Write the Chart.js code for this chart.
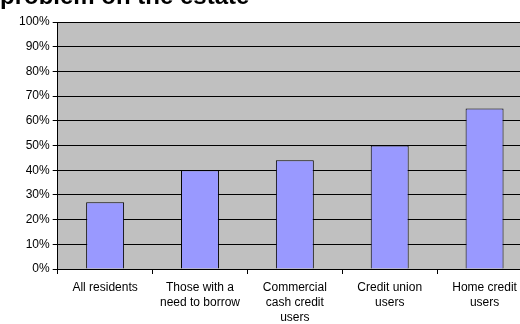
<!DOCTYPE html>
<html>
<head>
<meta charset="utf-8">
<script src="https://cdn.jsdelivr.net/npm/chart.js@4/dist/chart.umd.min.js"></script>
<style>
  html, body { margin: 0; padding: 0; background: #fff; overflow: hidden; }
  #wrap { width: 535px; height: 324px; }
</style>
</head>
<body>
<div id="wrap"><canvas id="chart"></canvas></div>
<script>
const categories = [
  ["All residents"],
  ["Those with a", "need to borrow"],
  ["Commercial", "cash credit", "users"],
  ["Credit union", "users"],
  ["Home credit", "users"]
];
const values = [27, 40, 44, 50, 65];
const titleText = "problem on the estate";

const font = "'Liberation Sans', Arial, sans-serif";

// grey plot area + cut-off title
const backdrop = {
  id: "backdrop",
  beforeDraw(chart) {
    const { ctx, chartArea: a } = chart;
    ctx.save();
    ctx.fillStyle = "#c0c0c0";
    ctx.fillRect(a.left, a.top, a.right - a.left, a.bottom - a.top);
    ctx.fillStyle = "#000";
    ctx.font = "bold 24px " + font;
    ctx.textBaseline = "alphabetic";
    ctx.fillText(titleText, 0, 4);
    ctx.restore();
  }
};

new Chart(document.getElementById("chart"), {
  type: "bar",
  data: {
    labels: categories,
    datasets: [{
      data: values,
      backgroundColor: "#9999ff",
      borderColor: "#000",
      borderWidth: 1,
      categoryPercentage: 0.4,
      barPercentage: 1
    }]
  },
  options: {
    responsive: true,
    maintainAspectRatio: false,
    animation: false,
    layout: { padding: { top: 22, right: 3, left: 16, bottom: -7 } },
    plugins: { legend: { display: false }, tooltip: { enabled: false } },
    scales: {
      x: {
        offset: true,
        grid: { display: true, drawOnChartArea: false, offset: true, color: "#000", tickLength: 5 },
        border: { color: "#000" },
        ticks: { color: "#000", font: { family: font, size: 12, lineHeight: 1.25 }, maxRotation: 0, autoSkip: false, padding: 6 }
      },
      y: {
        min: 0, max: 100,
        grid: { color: "#000", tickLength: 5 },
        border: { color: "#000" },
        ticks: {
          stepSize: 10, color: "#000", padding: 3,
          font: { family: font, size: 12 },
          callback: v => v + "%"
        }
      }
    }
  },
  plugins: [backdrop]
});
</script>
</body>
</html>
